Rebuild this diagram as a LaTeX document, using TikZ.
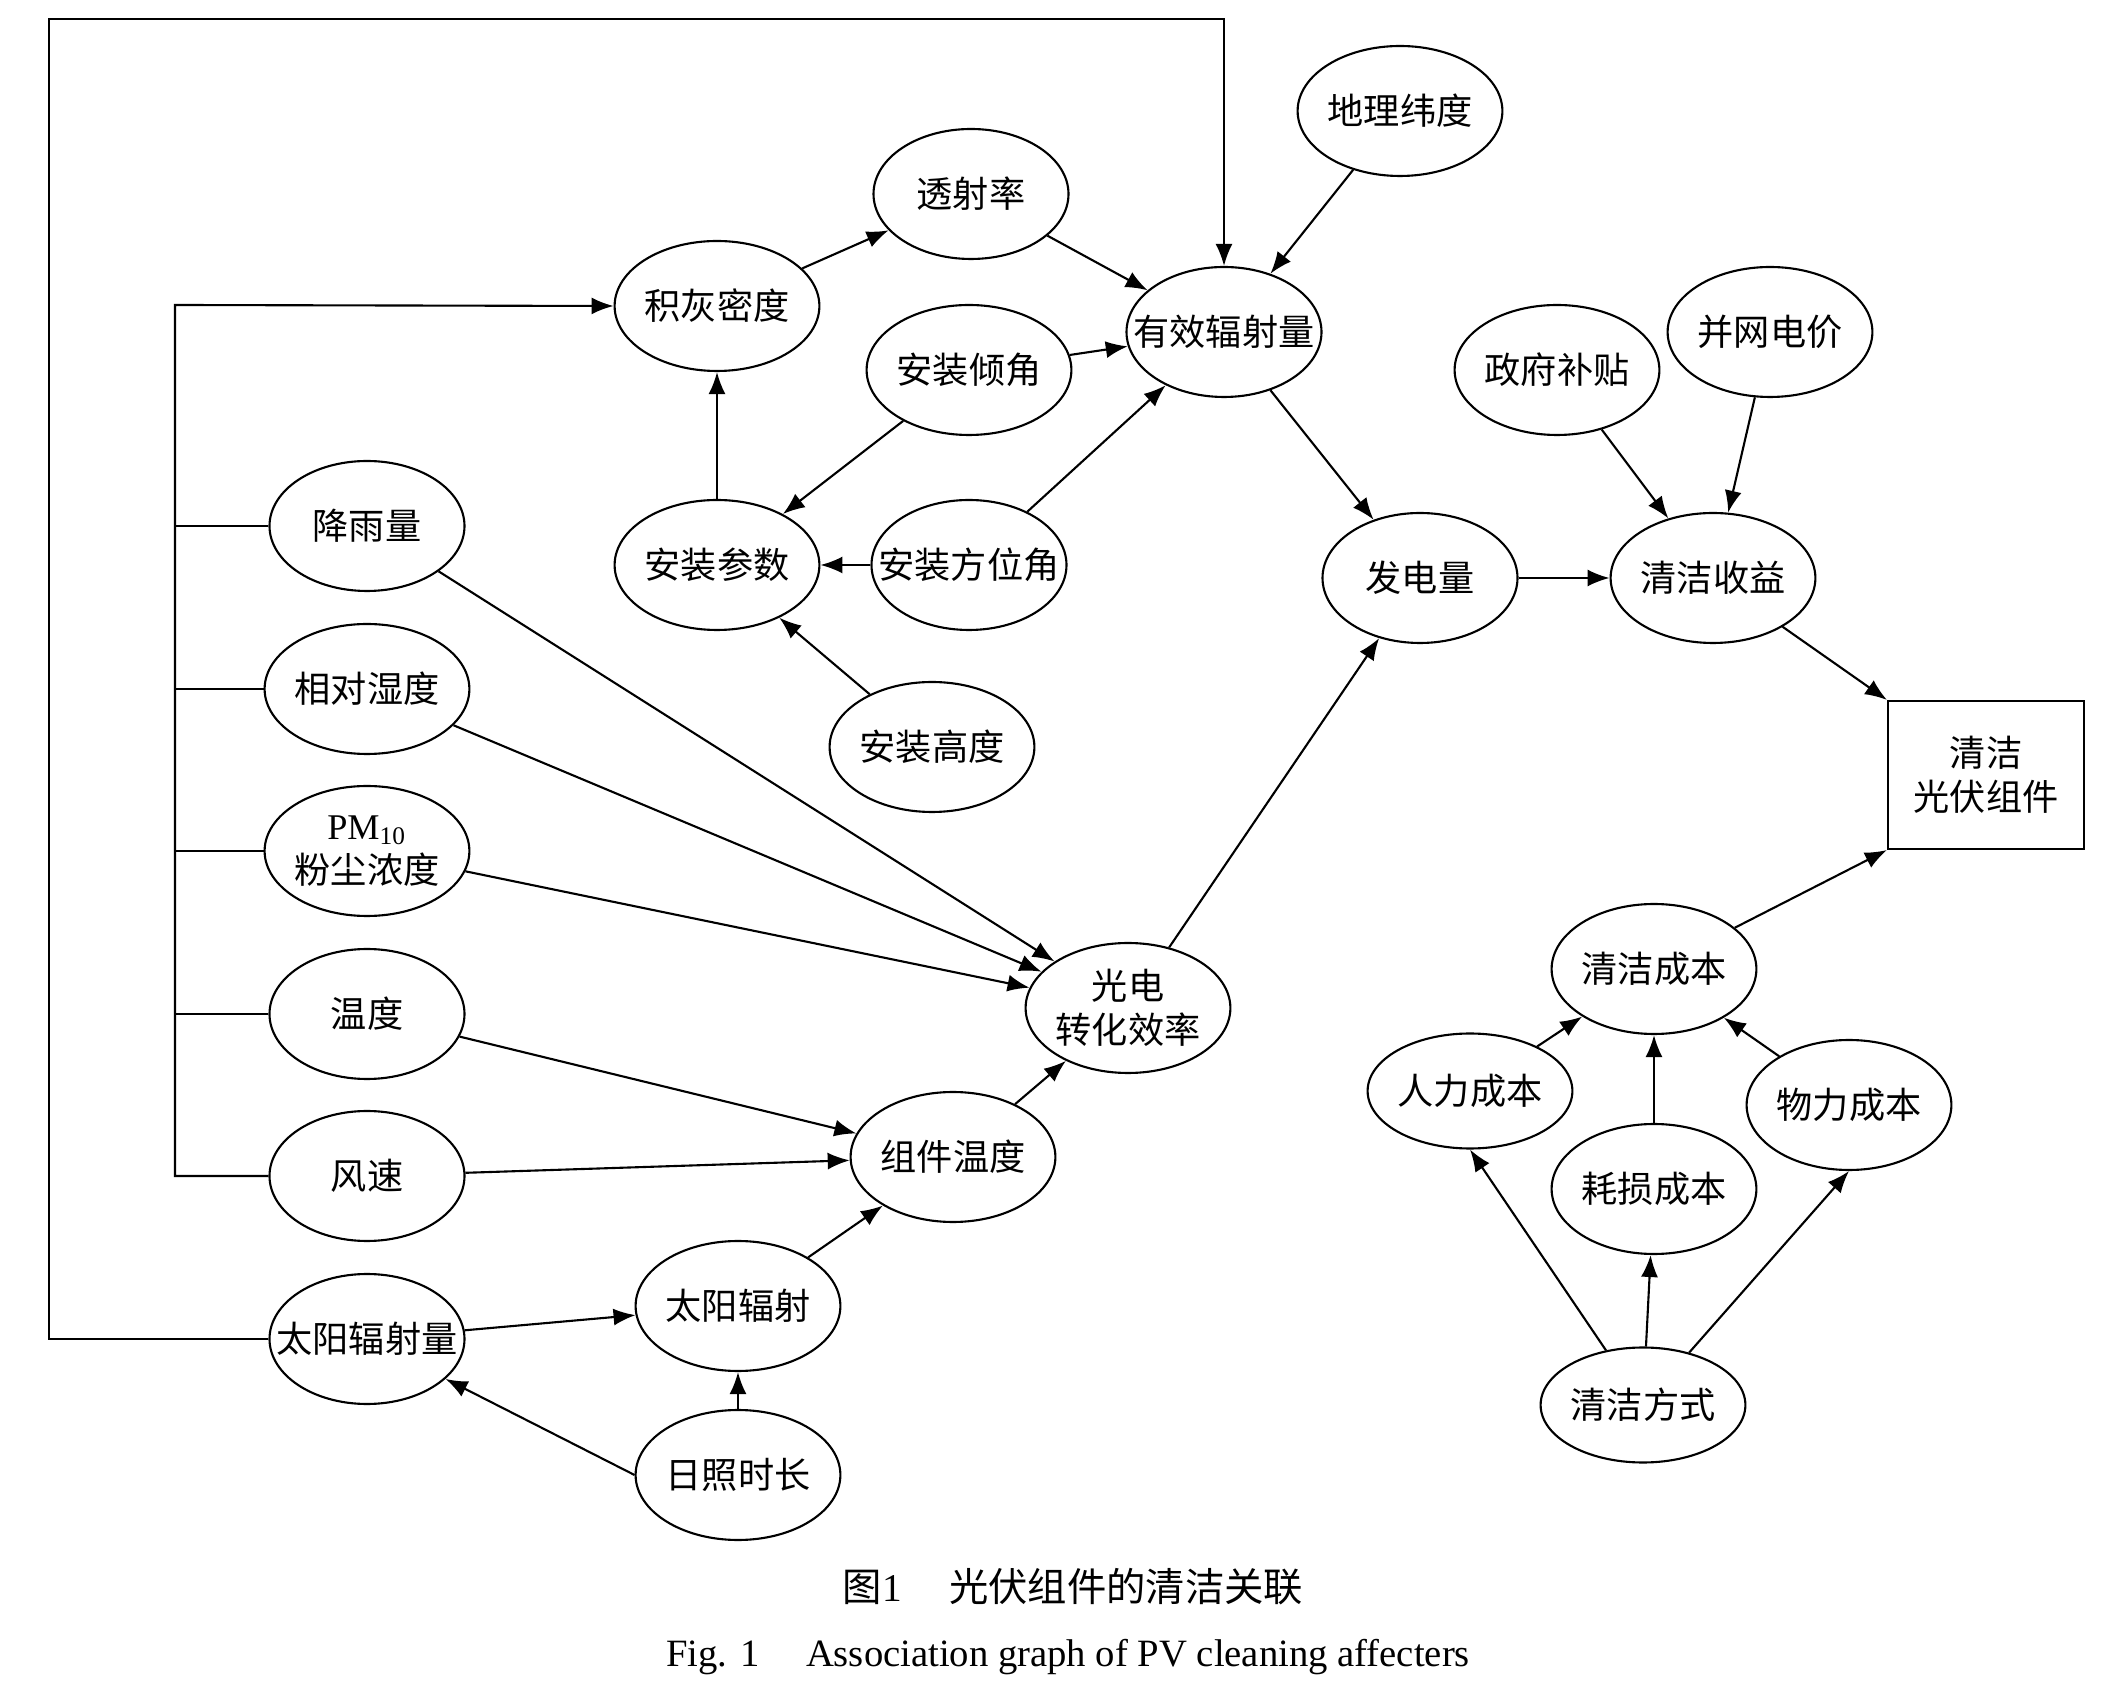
\documentclass[tikz,border=0pt]{standalone}
\usepackage{fontspec}
\setmainfont{Liberation Serif}
\newfontfamily\cjk{Noto Sans CJK SC}
\usetikzlibrary{shapes.geometric}
\usetikzlibrary{positioning}
\usetikzlibrary{arrows.meta}

\begin{document}
\begin{tikzpicture}[x=0.1mm,y=-0.1mm,line width=0.6pt,
		every path/.style={>={Latex[length=2.2mm,width=1.7mm]}},
		factor/.style={draw,ellipse,inner sep=0pt,minimum width=19.5mm,minimum height=13mm,
			font=\cjk\fontsize{10.3}{12.5}\selectfont,align=center},
		small factor/.style={factor,minimum width=17.3mm,minimum height=11.5mm}]
			\useasboundingbox (0,0) rectangle (2128,1694);
		
			% draw nodes
			\node (Trans) at (971,194) [factor] {透射率};
			\node (Latitude) at (1400,111) [factor] {地理纬度};
			\node (Dust_dens) at (717,306) [factor] {积灰密度};
			\node (Eff_rad) at (1224,332) [factor] {\makebox[0pt]{有效辐射量}};
			\node (Tilt) at (969,370) [factor] {安装倾角};
			\node (Subsidy) at (1557,370) [factor] {政府补贴};
			\node (Grid_price) at (1770,332) [factor] {并网电价};
			\node (Rain) at (367,526) [factor] {降雨量};
			\node (Inst_par) at (717,565) [factor] {安装参数};
			\node (Azimuth) at (969,565) [factor] {\makebox[0pt]{安装方位角}};
			\node (Output) at (1420,578) [factor] {发电量};
			\node (Income) at (1713,578) [factor] {清洁收益};
			\node (Humidity) at (367,689) [factor] {相对湿度};
			\node (Height) at (932,747) [factor] {安装高度};
			\node (PM) at (367,851) [factor] {{\rmfamily PM\textsubscript{10}}\\粉尘浓度};
			\node (Eff_pv) at (1128,1008) [factor] {光电\\转化效率};
			\node (Temp) at (367,1014) [factor] {温度};
			\node (Wind) at (367,1176) [factor] {风速};
			\node (Mod_temp) at (953,1157) [factor] {组件温度};
			\node (Sun_amount) at (367,1339) [factor] {\makebox[0pt]{太阳辐射量}};
			\node (Sun_rad) at (738,1306) [factor] {太阳辐射};
			\node (Sun_hours) at (738,1475) [factor] {日照时长};
			\node (Clean_pv) at (1986,775) [draw,rectangle,minimum width=19.6mm,minimum height=14.8mm,
				font=\cjk\fontsize{10.3}{12.5}\selectfont,align=center] {清洁\\光伏组件};
			\node (Cost) at (1654,969) [factor] {清洁成本};
			\node (Labour) at (1470,1091) [small factor] {人力成本};
			\node (Material) at (1849,1105) [factor] {物力成本};
			\node (Wear) at (1654,1189) [factor] {耗损成本};
			\node (Method) at (1643,1405) [small factor] {清洁方式};
		
			% draw caption
			\node (Cap_cn) at (1073,1587) [font=\fontsize{11.2}{13}\selectfont] {{\cjk 图}1\hspace{1.2em}{\cjk 光伏组件的清洁关联}};
			\node (Cap_en) at (1068,1657) [font=\fontsize{11}{13}\selectfont] {Fig. 1\hspace{1.2em}Association graph of PV cleaning affecters};
		
			% draw lines
			\coordinate (Bus) at (175,305);
			\coordinate (Frame) at (49,19);
			\draw[->] (Wind.west) -| (Bus) -- (Dust_dens.west);
			\draw (Rain.west) -- (Rain.west -| Bus);
			\draw (Humidity.west) -- (Humidity.west -| Bus);
			\draw (PM.west) -- (PM.west -| Bus);
			\draw (Temp.west) -- (Temp.west -| Bus);
			\draw[->] (Sun_amount.west) -| (Frame) -| (Eff_rad.north);
		
			% draw arrows
			\draw[->] (Dust_dens) to (Trans);
			\draw[->] (Trans) to (Eff_rad);
			\draw[->] (Latitude) to (Eff_rad);
			\draw[->] (Tilt) to (Eff_rad);
			\draw[->] (Azimuth) to (Eff_rad);
			\draw[->] (Tilt) to (Inst_par);
			\draw[->] (Azimuth) to (Inst_par);
			\draw[->] (Height) to (Inst_par);
			\draw[->] (Inst_par) to (Dust_dens);
			\draw[->] (Eff_rad) to (Output);
			\draw[->] (Output) to (Income);
			\draw[->] (Subsidy) to (Income);
			\draw[->] (Grid_price) to (Income);
			\draw[->] (Income) to (Clean_pv.north west);
			\draw[->] (Cost) to (Clean_pv.south west);
			\draw[->] (Labour) to (Cost);
			\draw[->] (Wear) to (Cost);
			\draw[->] (Material) to (Cost);
			\draw[->] (Method) to (Labour.south);
			\draw[->] (Method) to (Wear);
			\draw[->] (Method) to (Material.south);
			\draw[->] (Rain) to (Eff_pv);
			\draw[->] (Humidity) to (Eff_pv);
			\draw[->] (PM) to (Eff_pv);
			\draw[->] (Temp) to (Mod_temp);
			\draw[->] (Wind) to (Mod_temp);
			\draw[->] (Mod_temp) to (Eff_pv);
			\draw[->] (Eff_pv) to (Output);
			\draw[->] (Sun_amount) to (Sun_rad);
			\draw[->] (Sun_rad) to (Mod_temp);
			\draw[->] (Sun_hours) to (Sun_rad);
			\draw[->] (Sun_hours.west) to (Sun_amount);
		\end{tikzpicture}
\end{document}
